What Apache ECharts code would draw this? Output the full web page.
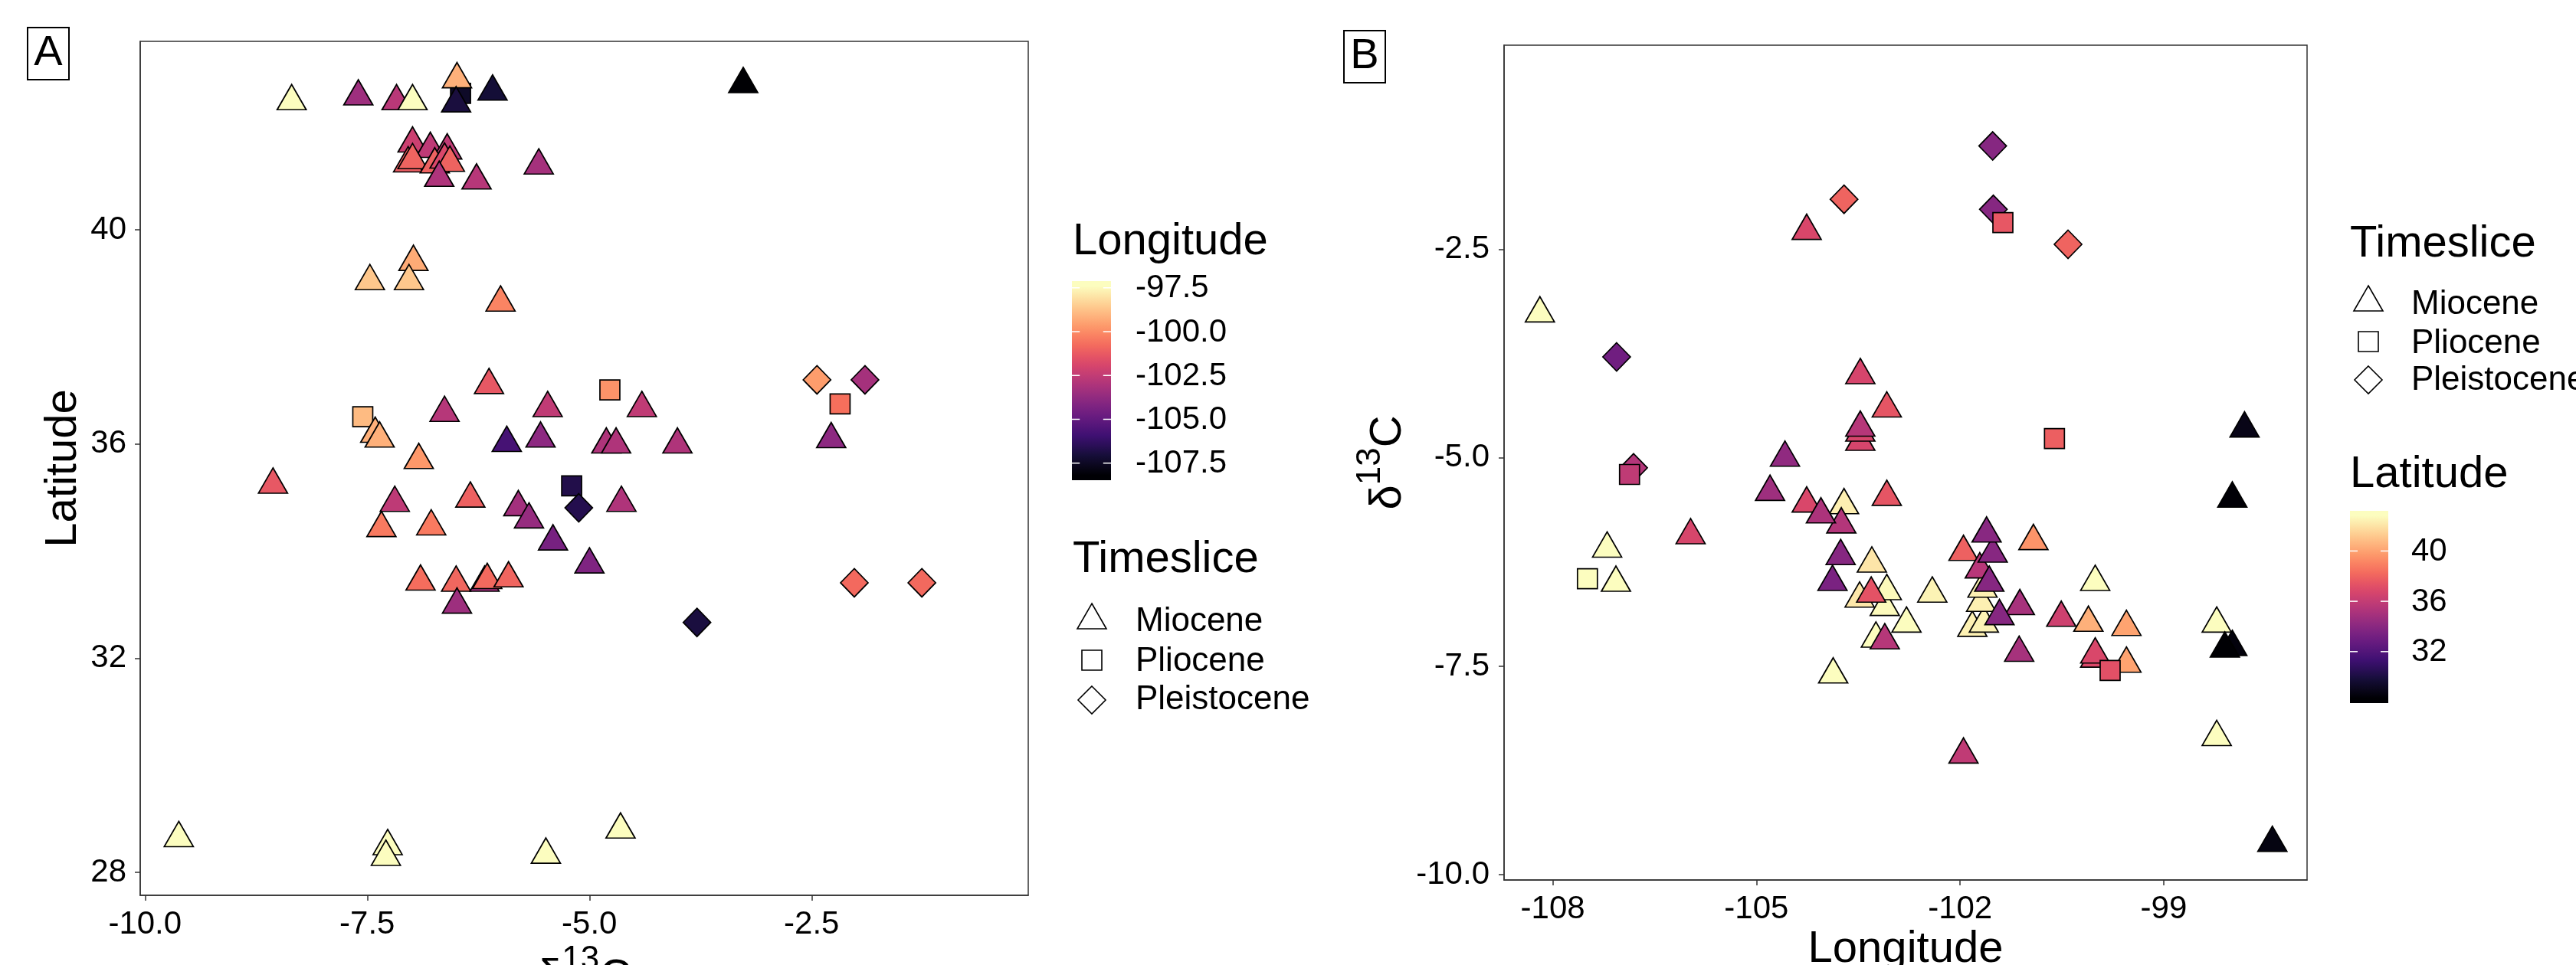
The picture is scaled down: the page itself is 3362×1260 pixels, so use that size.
<!DOCTYPE html>
<html>
<head>
<meta charset="utf-8">
<script src="https://cdn.jsdelivr.net/npm/echarts@6/dist/echarts.min.js"></script>
<style>
html,body{margin:0;padding:0;background:#fff;}
#c{width:3362px;height:1260px;}
</style>
</head>
<body>
<div id="c"></div>
<script>
// ---- data (one record per sample) ----
const d13C = [
 -8.35,-7.60,-7.17,-6.99,-6.49,-6.50,-6.09,-3.27,-6.99,-6.79,
 -6.60,-7.04,-6.99,-6.74,-6.63,-6.57,-6.69,-6.27,-5.57,-6.98,
 -7.47,-7.03,-6.00,-6.13,-5.47,-4.41,-6.63,-7.41,-7.36,-5.93,
 -5.55,-4.81,-4.70,-4.01,-6.92,-8.56,-7.19,-6.34,-5.80,-5.68,
 -4.64,-7.34,-6.78,-5.41,-5.00,-6.90,-6.50,-6.18,-6.15,-5.91,
 -6.49,-7.27,-7.29,-5.49,-4.65,-9.62,-2.28,
 -6.45,-4.77,-7.55,-5.20,-2.18,
 -5.12,-3.79,-2.44,-1.90,-2.02,-1.26
];
const latitude = [
 42.40,42.49,42.40,42.40,42.81,42.36,42.58,42.72,41.61,41.51,
 41.48,41.24,41.30,41.22,41.31,41.25,40.97,40.92,41.20,39.40,
 39.04,39.04,38.64,37.10,36.67,36.67,36.58,36.19,36.10,36.02,
 36.10,35.99,35.99,35.99,35.70,35.24,34.90,34.98,34.82,34.59,
 34.90,34.43,34.46,34.18,33.75,33.43,33.41,33.41,33.46,33.49,
 33.00,28.49,28.29,28.33,28.80,28.64,36.09,
 42.55,37.01,36.51,35.22,36.75,
 34.81,32.67,37.20,37.20,33.41,33.41
];
const longitude = [
 -98.22,-103.87,-103.24,-98.22,-100.01,-107.07,-107.20,-108.19,-102.79,-103.11,
 -103.08,-101.82,-101.65,-101.69,-102.41,-101.67,-103.48,-103.30,-103.71,-100.11,
 -99.55,-99.55,-100.92,-101.95,-103.08,-103.08,-103.31,-100.01,-100.01,-105.97,
 -104.26,-103.47,-103.47,-103.47,-100.51,-101.95,-103.11,-101.71,-103.75,-104.05,
 -103.47,-101.13,-101.12,-104.80,-104.58,-101.42,-101.57,-103.76,-101.52,-101.61,
 -103.88,-97.99,-98.10,-97.99,-97.81,-97.40,-104.26,
 -107.49,-100.61,-99.79,-106.87,-101.37,
 -106.81,-107.06,-100.41,-103.71,-101.51,-101.52
];
const timeslice = [].concat(
  Array(57).fill('Miocene'),
  Array(5).fill('Pliocene'),
  Array(6).fill('Pleistocene')
);
const periods = ['Miocene','Pliocene','Pleistocene'];

// tick labels
const aXTicks = [-10,-7.5,-5,-2.5];
const aYTicks = [28,32,36,40];
const bXTicks = [-108,-105,-102,-99];
const bYTicks = [-10,-7.5,-5,-2.5];
const lonLegendTicks = [-97.5,-100,-102.5,-105,-107.5];
const latLegendTicks = [40,36,32];

// magma palette
const magma = ['#000004','#140E36','#3B0F70','#641A80','#8C2981','#B73779','#DE4968','#F7705C','#FE9F6D','#FECF92','#FCFDBF'];

const FONT = '"Liberation Sans", Arial, Helvetica, sans-serif';
const lonMin = Math.min(...longitude), lonMax = Math.max(...longitude);
const latMin = Math.min(...latitude), latMax = Math.max(...latitude);
// colour ramp of the marks as it appears in the picture (saturates a little before the data maximum)
const lonColorTop = -98.4, latColorTop = 41.6;

function hex2rgb(h){return [parseInt(h.slice(1,3),16),parseInt(h.slice(3,5),16),parseInt(h.slice(5,7),16)];}
function magmaAt(t){
  t=Math.max(0,Math.min(1,t));
  const n=magma.length-1, f=t*n, i=Math.min(Math.floor(f),n-1), u=f-i;
  const a=hex2rgb(magma[i]), b=hex2rgb(magma[i+1]);
  return 'rgb('+a.map((v,k)=>Math.round(v*(1-u)+b[k]*u)).join(',')+')';
}

const shapes = {
  Miocene:{symbol:'triangle',size:[38,33],offset:[0,-5.5]},
  Pliocene:{symbol:'rect',size:[26,26],offset:[0,0]},
  Pleistocene:{symbol:'diamond',size:[36,37],offset:[0,0]}
};

const series = [];
const orderA = ['Pliocene','Miocene','Pleistocene'];
const orderB = ['Pleistocene','Miocene','Pliocene'];
orderA.forEach(p=>{
  const idx = timeslice.map((t,i)=>t===p?i:-1).filter(i=>i>=0);
  series.push({type:'scatter',name:p,xAxisIndex:0,yAxisIndex:0,
    symbol:shapes[p].symbol,symbolSize:shapes[p].size,symbolOffset:shapes[p].offset,
    data:idx.map(i=>[d13C[i],latitude[i],longitude[i]]),
    itemStyle:{borderColor:'#000',borderWidth:1.7,opacity:1},
    emphasis:{disabled:true},silent:true,animation:false});
});
orderB.forEach(p=>{
  const idx = timeslice.map((t,i)=>t===p?i:-1).filter(i=>i>=0);
  series.push({type:'scatter',name:p+' B',xAxisIndex:1,yAxisIndex:1,
    symbol:shapes[p].symbol,symbolSize:shapes[p].size,symbolOffset:shapes[p].offset,
    data:idx.map(i=>[longitude[i],d13C[i],latitude[i]]),
    itemStyle:{borderColor:'#000',borderWidth:1.7,opacity:1},
    emphasis:{disabled:true},silent:true,animation:false});
});

function axisBase(ticks, fmt, margin){
  return {
    type:'value', splitLine:{show:false}, nameMoveOverlap:false,
    axisLine:{show:true,onZero:false,lineStyle:{color:'#333',width:1.5}},
    axisTick:{show:true,length:7,customValues:ticks,lineStyle:{color:'#333',width:1.5}},
    axisLabel:{customValues:ticks,formatter:fmt,fontSize:42,color:'#000',fontFamily:FONT,margin:margin}
  };
}
const richD = {
  m:{fontSize:58,fontFamily:FONT,color:'#000',verticalAlign:'bottom'},
  s:{fontSize:44,fontFamily:FONT,color:'#000',verticalAlign:'top',padding:[0,0,30,0]}
};

const xA = Object.assign(axisBase(aXTicks, v=>Number(v).toFixed(1), 17), {
  gridIndex:0, min:-10.054, max:-0.063,
  name:'{m|δ}{s|13}{m|C}', nameLocation:'middle', nameGap:63,
  nameTextStyle:{fontFamily:FONT,color:'#000',rich:richD}
});
const yA = Object.assign(axisBase(aYTicks, v=>String(v), 18), {
  gridIndex:0, min:27.574, max:43.52,
  name:'Latitude', nameLocation:'middle', nameGap:71,
  nameTextStyle:{fontFamily:FONT,color:'#000',fontSize:58}
});
const xB = Object.assign(axisBase(bXTicks, v=>String(v), 17), {
  gridIndex:1, min:-108.718, max:-96.889,
  name:'Longitude', nameLocation:'middle', nameGap:62,
  nameTextStyle:{fontFamily:FONT,color:'#000',fontSize:58}
});
const yB = Object.assign(axisBase(bYTicks, v=>Number(v).toFixed(1), 19), {
  gridIndex:1, min:-10.063, max:-0.052,
  name:'{m|δ}{s|13}{m|C}', nameLocation:'middle', nameGap:122,
  nameTextStyle:{fontFamily:FONT,color:'#000',rich:richD}
});

// ---- legends & panel tags (graphic) ----
const g = [];
function txt(x,y,s,size){
  g.push({type:'text',x:x,y:y,silent:true,
    style:{text:s,fontSize:size,fontFamily:FONT,fill:'#000',align:'left',textAlign:'left',verticalAlign:'middle',textVerticalAlign:'middle'}});
}
function tag(x,y,w,h,s){
  g.push({type:'rect',silent:true,shape:{x:x,y:y,width:w,height:h},style:{fill:'#fff',stroke:'#000',lineWidth:2}});
  g.push({type:'text',x:x+w/2,y:y+h/2,silent:true,
    style:{text:s,fontSize:56,fontFamily:FONT,fill:'#000',align:'center',textAlign:'center',verticalAlign:'middle',textVerticalAlign:'middle'}});
}
function keyShape(kind,cx,cy){
  let pts;
  if(kind==='Miocene') pts=[[cx,cy-22],[cx+19,cy+11],[cx-19,cy+11]];
  else if(kind==='Pliocene') pts=[[cx-13,cy-13],[cx+13,cy-13],[cx+13,cy+13],[cx-13,cy+13]];
  else pts=[[cx,cy-18],[cx+18,cy],[cx,cy+18],[cx-18,cy]];
  g.push({type:'polygon',silent:true,shape:{points:pts},style:{fill:'#fff',stroke:'#000',lineWidth:1.6}});
}
function colorbar(x,y,w,h,ticks,vmin,vmax,labelX,fmt){
  const stops=[{offset:0,color:magmaAt(0)}];
  const nb=20;
  for(let k=0;k<nb;k++) stops.push({offset:(k+0.5)/nb,color:magmaAt(k/(nb-1))});
  stops.push({offset:1,color:magmaAt(1)});
  g.push({type:'rect',silent:true,shape:{x:x,y:y,width:w,height:h},
    style:{fill:new echarts.graphic.LinearGradient(0,1,0,0,stops),stroke:null}});
  ticks.forEach(v=>{
    const ty = y+h - h*(0.025+0.95*(v-vmin)/(vmax-vmin));
    g.push({type:'line',silent:true,shape:{x1:x,y1:ty,x2:x+w/5,y2:ty},style:{stroke:'#fff',lineWidth:1.5}});
    g.push({type:'line',silent:true,shape:{x1:x+w-w/5,y1:ty,x2:x+w,y2:ty},style:{stroke:'#fff',lineWidth:1.5}});
    txt(labelX,ty+1,fmt(v),42);
  });
}

tag(36,36,54,68,'A');
tag(1754,40,54,68,'B');

// Panel A legend
txt(1400,316,'Longitude',58);
colorbar(1399,367,51,260,lonLegendTicks,lonMin,lonMax,1482,v=>v.toFixed(1));
txt(1400,731,'Timeslice',58);
[[810,812],[862,864],[914,914]].forEach((r,i)=>{ keyShape(periods[i],1425,r[0]); txt(1482,r[1],periods[i],44); });

// Panel B legend
txt(3067,319,'Timeslice',58);
[[395,398],[446,449],[496,497]].forEach((r,i)=>{ keyShape(periods[i],3091,r[0]); txt(3147,r[1],periods[i],44); });
txt(3067,620,'Latitude',58);
colorbar(3067,667,50,251,latLegendTicks,latMin,latMax,3147,v=>String(v));

const chart = echarts.init(document.getElementById('c'),null,{renderer:'canvas',width:3362,height:1260});
chart.setOption({
  backgroundColor:'#fff',
  animation:false,
  grid:[
    {left:183,top:54,width:1159,height:1115,show:true,borderColor:'#333',borderWidth:1.5,backgroundColor:'#fff',containLabel:false,outerBoundsMode:'none'},
    {left:1963,top:59,width:1048,height:1090,show:true,borderColor:'#333',borderWidth:1.5,backgroundColor:'#fff',containLabel:false,outerBoundsMode:'none'}
  ],
  xAxis:[xA,xB],
  yAxis:[yA,yB],
  visualMap:[
    {type:'continuous',show:false,dimension:2,seriesIndex:[0,1,2],min:lonMin,max:lonColorTop,inRange:{color:magma}},
    {type:'continuous',show:false,dimension:2,seriesIndex:[3,4,5],min:latMin,max:latColorTop,inRange:{color:magma}}
  ],
  series:series,
  graphic:{elements:g}
});
</script>
</body>
</html>
